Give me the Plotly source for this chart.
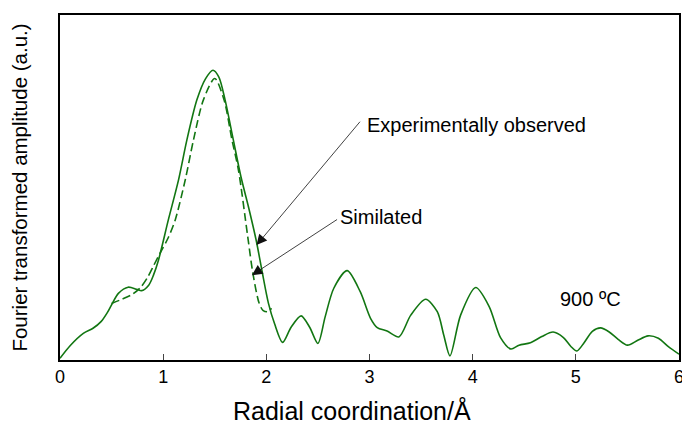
import plotly.graph_objects as go

# Experimentally observed Fourier transform magnitude (solid)
r_exp = [0, 0.1, 0.226, 0.32, 0.40, 0.46, 0.5, 0.566, 0.66, 0.744, 0.79, 0.86, 0.906, 0.955,
         1.05, 1.149, 1.23, 1.327, 1.41, 1.483, 1.54, 1.60, 1.68, 1.754, 1.83, 1.903,
         1.96, 2.02, 2.08, 2.158, 2.24, 2.337, 2.42, 2.50, 2.57, 2.654, 2.783, 2.91,
         3.01, 3.075, 3.17, 3.285, 3.40, 3.544, 3.657, 3.72, 3.78, 3.883, 4.03, 4.16,
         4.27, 4.37, 4.45, 4.56, 4.67, 4.78, 4.88, 4.95, 5.01, 5.08, 5.16, 5.24, 5.32,
         5.41, 5.5, 5.6, 5.7, 5.8, 5.9, 6.0]
a_exp = [0.5, 4.2, 7.7, 9.2, 11.2, 13.8, 16.0, 19.3, 21.1, 20.5, 20.1, 21.7, 24.6, 29.0,
         40.6, 52.2, 63.8, 75.4, 81.5, 84.0, 82.0, 75.4, 63.8, 53.1, 44.0, 34.5,
         25.5, 16.5, 10.5, 5.1, 9.5, 12.8, 9.5, 4.8, 12.5, 20.8, 25.9, 19.8,
         12.1, 9.4, 8.4, 6.7, 13.0, 17.6, 14.0, 7.2, 1.2, 13.0, 21.0, 15.5,
         6.5, 3.2, 4.3, 5.0, 6.8, 8.1, 6.5, 4.0, 2.6, 5.0, 8.3, 9.3, 8.2,
         6.0, 4.3, 5.7, 7.0, 6.3, 3.8, 1.7]

# Simulated fit (dashed)
r_sim = [0.5, 0.6, 0.7, 0.78, 0.85, 0.91, 0.97, 1.05, 1.117, 1.214, 1.294, 1.39, 1.5,
         1.59, 1.667, 1.73, 1.82, 1.87, 1.93, 1.97, 2.02, 2.05]
a_sim = [16.4, 17.6, 19.0, 21.0, 24.0, 27.5, 31.0, 35.5, 40.6, 52.2, 63.8, 75.4, 81.6,
         75.4, 63.8, 55.0, 35.7, 25.1, 16.5, 14.3, 14.0, 15.0]

x_ticks = [0, 1, 2, 3, 4, 5, 6]

green = "#127612"
fig = go.Figure()
fig.add_trace(go.Scatter(x=r_exp, y=a_exp, mode="lines",
                         line=dict(color=green, width=1.6, shape="spline", smoothing=0.8),
                         showlegend=False))
fig.add_trace(go.Scatter(x=r_sim, y=a_sim, mode="lines",
                         line=dict(color=green, width=1.6, shape="spline", smoothing=0.8,
                                   dash="8px,4px"),
                         showlegend=False))

font = "Liberation Sans, Arial, sans-serif"
annos = [
    dict(x=1.905, y=33.3, ax=2.92, ay=69.5, text=""),
    dict(x=1.86, y=24.6, ax=2.70, ay=41.0, text=""),
]
for a in annos:
    fig.add_annotation(x=a["x"], y=a["y"], ax=a["ax"], ay=a["ay"], axref="x", ayref="y",
                       xref="x", yref="y", text=a["text"], showarrow=True,
                       arrowhead=2, arrowsize=2.6, arrowwidth=0.8, arrowcolor="#111111")
fig.add_annotation(x=2.96, y=68.0, text="Experimentally observed", showarrow=False,
                   xanchor="left", yanchor="middle", font=dict(size=20, color="black", family=font))
fig.add_annotation(x=2.69, y=41.4, text="Similated", showarrow=False,
                   xanchor="left", yanchor="middle", font=dict(size=20, color="black", family=font))
fig.add_annotation(x=4.83, y=17.7, text="900 ºC", showarrow=False,
                   xanchor="left", yanchor="middle", font=dict(size=20, color="black", family=font))
# x-axis title (placed as in the reference, slightly left of centre)
fig.add_annotation(x=0.472, y=-0.145, xref="paper", yref="paper", text="Radial coordination/Å",
                   showarrow=False, xanchor="center", yanchor="middle",
                   font=dict(size=25, color="black", family=font))

fig.update_layout(
    width=682, height=425,
    margin=dict(l=60, r=3, t=15, b=65),
    paper_bgcolor="white", plot_bgcolor="white",
    font=dict(family=font, color="black"),
    xaxis=dict(range=[0, 6], tickvals=x_ticks, ticktext=[str(t) for t in x_ticks],
               ticks="inside", ticklen=6, tickwidth=1, tickcolor="#444",
               showline=True, linecolor="black", linewidth=1.5, mirror=True,
               showgrid=False, zeroline=False, tickfont=dict(size=18),
               ticklabeloverflow="allow", automargin=False),
    yaxis=dict(range=[0, 100], showticklabels=False, ticks="",
               showline=True, linecolor="black", linewidth=1.5, mirror=True,
               showgrid=False, zeroline=False,
               title=dict(text="Fourier transformed amplitude (a.u.)", font=dict(size=20.5), standoff=25),
               automargin=False),
)
fig.write_html("out.html")
